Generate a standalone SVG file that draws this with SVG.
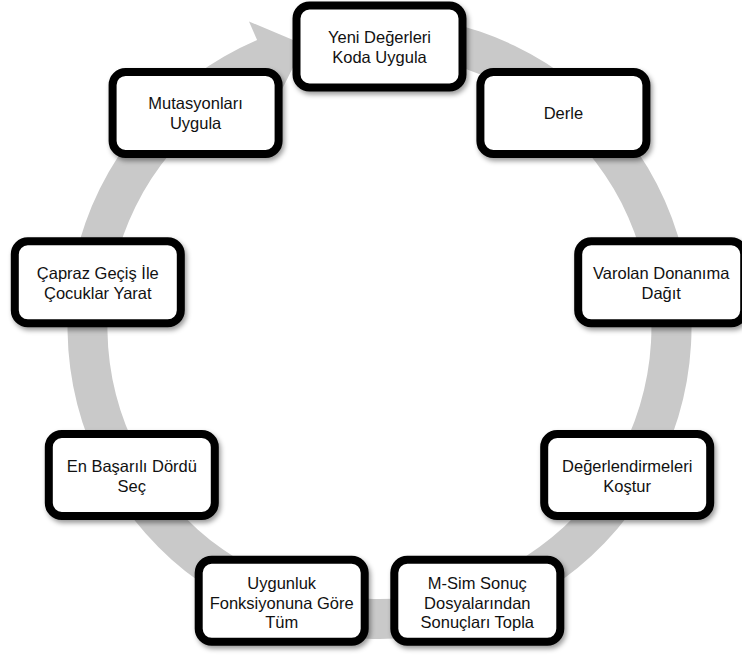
<svg xmlns="http://www.w3.org/2000/svg" width="742" height="655" viewBox="0 0 742 655">
  <defs>
    <filter id="shadow" x="-20%" y="-20%" width="140%" height="150%">
      <feDropShadow dx="2" dy="3" stdDeviation="2.5" flood-color="#000" flood-opacity="0.4"/>
    </filter>
    <style>
      .box { fill: #ffffff; stroke: #000000; stroke-width: 8; filter: url(#shadow); }
      .lbl { font-family: "Liberation Sans", Arial, sans-serif; font-size: 16.5px; fill: #111111; text-anchor: middle; }
      .ring { fill: #c9c9c9; stroke: none; }
    </style>
  </defs>
  <rect width="742" height="655" fill="#ffffff"/>

  <g id="connectors">
    <path class="ring" d="M444.4,21.8 A312,312 0 1 1 257.1,40.0 L249.0,21.5 L304.4,44.8 L279.9,93.4 L272.8,76.8 A272,272 0 1 0 436.1,61.0 Z"/>
  </g>

  <g id="node-yeni">
    <rect class="box" x="296.5" y="5.5" width="166" height="82" rx="13"/>
    <text class="lbl" x="379.5" y="43.3">Yeni Değerleri</text>
    <text class="lbl" x="379.5" y="63.3">Koda Uygula</text>
  </g>

  <g id="node-derle">
    <rect class="box" x="480.4" y="71.9" width="166" height="82" rx="13"/>
    <text class="lbl" x="563.4" y="119">Derle</text>
  </g>

  <g id="node-varolan">
    <rect class="box" x="578.2" y="241.3" width="166" height="82" rx="13"/>
    <text class="lbl" x="661.2" y="279">Varolan Donanıma</text>
    <text class="lbl" x="661.2" y="299">Dağıt</text>
  </g>

  <g id="node-degerlendirme">
    <rect class="box" x="544.2" y="434" width="166" height="82" rx="13"/>
    <text class="lbl" x="627.2" y="471.7">Değerlendirmeleri</text>
    <text class="lbl" x="627.2" y="491.7">Koştur</text>
  </g>

  <g id="node-msim">
    <rect class="box" x="394.3" y="559.8" width="166" height="82" rx="13"/>
    <text class="lbl" x="477.3" y="589.3">M-Sim Sonuç</text>
    <text class="lbl" x="477.3" y="608.8">Dosyalarından</text>
    <text class="lbl" x="477.3" y="628.3">Sonuçları Topla</text>
  </g>

  <g id="node-uygunluk">
    <rect class="box" x="198.7" y="559.8" width="166" height="82" rx="13"/>
    <text class="lbl" x="281.7" y="589.3">Uygunluk</text>
    <text class="lbl" x="281.7" y="608.8">Fonksiyonuna Göre</text>
    <text class="lbl" x="281.7" y="628.3">Tüm</text>
  </g>

  <g id="node-enbasarili">
    <rect class="box" x="48.8" y="434" width="166" height="82" rx="13"/>
    <text class="lbl" x="131.8" y="471.7">En Başarılı Dördü</text>
    <text class="lbl" x="131.8" y="491.7">Seç</text>
  </g>

  <g id="node-capraz">
    <rect class="box" x="14.8" y="241.3" width="166" height="82" rx="13"/>
    <text class="lbl" x="97.8" y="279">Çapraz Geçiş İle</text>
    <text class="lbl" x="97.8" y="299">Çocuklar Yarat</text>
  </g>

  <g id="node-mutasyon">
    <rect class="box" x="112.6" y="71.9" width="166" height="82" rx="13"/>
    <text class="lbl" x="195.6" y="109">Mutasyonları</text>
    <text class="lbl" x="195.6" y="129">Uygula</text>
  </g>
</svg>
